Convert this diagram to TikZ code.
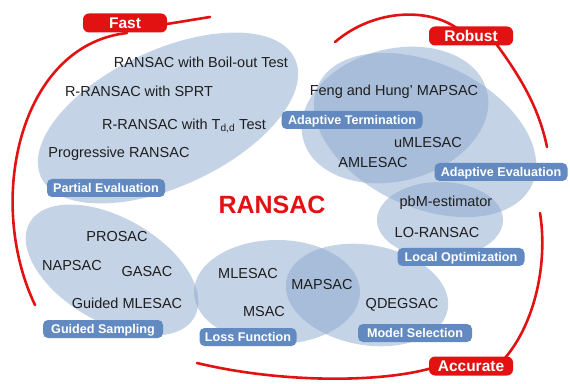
\documentclass[tikz,border=0pt]{standalone}
\usepackage{fontspec}
\setmainfont{Liberation Sans}
\usepackage{tikz}
\usetikzlibrary{positioning, calc}
\definecolor{blobblue}{RGB}{139,167,205}
\definecolor{tagblue}{RGB}{98,138,192}
\definecolor{goalred}{RGB}{226,18,18}
\definecolor{ink}{RGB}{30,30,30}
\tikzstyle{blob} = [fill=blobblue, fill opacity=0.5]
\tikzstyle{method} = [text=ink, font=\fontsize{14.5}{16}\selectfont, inner sep=1pt]
\tikzstyle{tag} = [rectangle, rounded corners=5pt, fill=tagblue, text=white, font=\fontsize{12.6}{14}\selectfont\bfseries, inner sep=0pt, minimum height=18pt, text depth=0pt]
\tikzstyle{goal} = [rectangle, rounded corners=6pt, fill=goalred, text=white, font=\fontsize{15.5}{17}\selectfont\bfseries, inner sep=0pt, minimum width=84pt, minimum height=19pt]
\tikzstyle{trend} = [line width=2.6pt, goalred, line cap=round]

\begin{document}
\begin{tikzpicture}[x=1pt, y=1pt]
	\useasboundingbox (0,0) rectangle (570,383);

	% Groups
	\fill[blob, rotate around={25:(168,265)}] (168,265) ellipse (140 and 68);
	\fill[blob, rotate around={-25:(425,248)}] (425,248) ellipse (118 and 72);
	\fill[blob, rotate around={15:(395,268)}] (395,268) ellipse (95 and 66);
	\fill[blob] (440,163) ellipse (63 and 38);
	\fill[blob, rotate around={-30:(112,113)}] (112,113) ellipse (95 and 52);
	\fill[blob] (277,91) ellipse (83 and 52);
	\fill[blob, rotate around={-10:(367,88)}] (367,88) ellipse (82 and 50);

	% Methods - partial evaluation
	\node (boil) [method] at (201,321) {RANSAC with Boil-out Test};
	\node (sprt) [method] at (139,292) {R-RANSAC with SPRT};
	\node (tdd)  [method] at (184,257) {R-RANSAC with T\textsubscript{d,d} Test};
	\node (prog) [method] at (119,229) {Progressive RANSAC};

	% Methods - adaptive termination / evaluation
	\node (feng) [method] at (394,291) {Feng and Hung’ MAPSAC};
	\node (umle) [method] at (428,240) {uMLESAC};
	\node (amle) [method] at (373,220) {AMLESAC};
	\node (pbm)  [method] at (446,180) {pbM-estimator};
	\node (lor)  [method] at (437,150) {LO-RANSAC};

	% Methods - guided sampling
	\node (prosac) [method] at (117,146) {PROSAC};
	\node (napsac) [method] at (72,117)  {NAPSAC};
	\node (gasac)  [method] at (147,111) {GASAC};
	\node (gmle)   [method] at (127,80)  {Guided MLESAC};

	% Methods - loss function / model selection
	\node (mlesac) [method] at (248,109) {MLESAC};
	\node (msac)   [method] at (264,71)  {MSAC};
	\node (mapsac) [method] at (322,98)  {MAPSAC};
	\node (qdeg)   [method] at (402,78)  {QDEGSAC};

	\node (ransac) [text=goalred, font=\fontsize{25}{28}\selectfont\bfseries] at (272,178) {RANSAC};

	% Group tags
	\node (partial) [tag, minimum width=118pt] at (106,195) {Partial Evaluation};
	\node (term)    [tag, minimum width=141pt] at (352,263) {Adaptive Termination};
	\node (eval)    [tag, minimum width=133pt] at (501,211) {Adaptive Evaluation};
	\node (local)   [tag, minimum width=127pt] at (461,126) {Local Optimization};
	\node (guided)  [tag, minimum width=120pt] at (103,54)  {Guided Sampling};
	\node (loss)    [tag, minimum width=97pt]  at (248,46)  {Loss Function};
	\node (model)   [tag, minimum width=114pt] at (415,50)  {Model Selection};

	% Trade-offs
	\coordinate (fastend) at (210,366);
	\coordinate (fastlow) at (35,78);
	\coordinate (robustleft) at (335,341);
	\coordinate (robustlow) at (547,236);
	\coordinate (accuratetop) at (540,170);
	\coordinate (accurateleft) at (197,20);

	\draw[trend] (167,359) -- (fastend);
	\draw[trend] (127,350) .. controls (20,338) and (-15,183) .. (fastlow);
	\draw[trend] (robustleft) .. controls (375,375) and (430,375) .. (458,354);
	\draw[trend] (497,338) .. controls (525,300) and (540,270) .. (robustlow);
	\draw[trend] (accuratetop) .. controls (548,120) and (535,60) .. (505,25);
	\draw[trend] (accurateleft) .. controls (280,0) and (380,0) .. (432,15);

	\node (fast)     [goal] at (125,360) {Fast};
	\node (robust)   [goal] at (471,347) {Robust};
	\node (accurate) [goal] at (471,17)  {Accurate};

\end{tikzpicture}
\end{document}
